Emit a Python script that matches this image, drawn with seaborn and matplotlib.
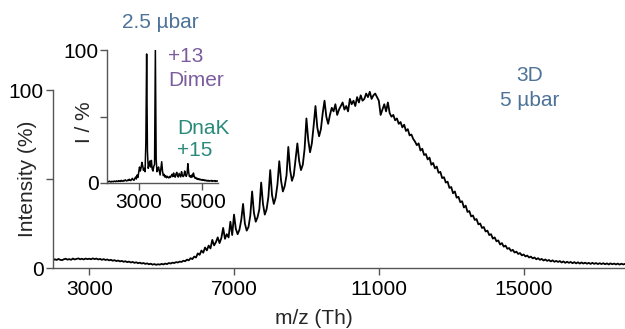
import numpy as np
import pandas as pd
import matplotlib
matplotlib.use("Agg")
import matplotlib.pyplot as plt
import seaborn as sns

# Espectro principal (3D, 5 µbar): intensidad (%) cada 50 Th desde 2000
main_start, main_step = 2000, 50
main_int = [
    # 2000-2950
    4.3, 4.9, 4.5, 5.1, 4.6, 4.4, 4.9, 5.2, 4.7, 5.0, 4.6, 5.3, 4.8, 5.1, 5.4, 4.9, 5.2, 4.8, 5.3, 5.0,
    # 3000-3950
    5.2, 4.9, 5.4, 5.0, 5.3, 4.8, 5.1, 4.6, 5.0, 4.5, 4.8, 4.3, 4.6, 4.1, 4.4, 3.9, 4.2, 3.7, 4.0, 3.5,
    # 4000-4950
    3.8, 3.3, 3.6, 3.1, 3.4, 2.9, 3.2, 2.7, 3.0, 2.5, 2.8, 2.3, 2.6, 2.1, 2.4, 1.9, 2.2, 1.8, 2.1, 1.9,
    # 5000-5950
    2.3, 2.0, 2.5, 2.2, 2.8, 2.5, 3.0, 2.8, 3.3, 3.1, 3.6, 3.4, 4.1, 3.8, 4.7, 4.3, 5.5, 5.0, 6.4, 5.9,
    # 6000-6950
    8.2, 7.4, 9.8, 8.6, 11.5, 9.9, 12.6, 11.0, 15.8, 12.7, 14.5, 17.2, 14.0, 16.8, 22.5, 16.4, 19.0, 17.2, 26.0, 18.5,
    # 7000-7950
    30, 22, 19, 21.5, 27, 36, 25, 21, 23, 29.5,
    43, 31, 26, 28.5, 33, 48, 36, 30, 33, 40,
    # 8000-8950
    55, 41, 36, 39.5, 47, 60, 49, 43, 46, 52,
    68, 55, 49, 52, 61, 70, 60, 55, 58, 67,
    # 9000-9950
    84, 72, 65, 70, 80, 91, 79, 74, 78, 87,
    94, 85, 81, 86, 90, 88, 92, 86, 89, 91,
    # 10000-10950
    93, 89, 91, 88, 95, 92, 94, 91, 96, 93, 97, 94, 95, 98, 96, 99, 95, 97, 98, 96,
    # 11000-11950
    94, 86, 89, 92, 88, 93, 87, 85, 86, 83, 84, 81, 82, 79, 80.5, 77, 78, 74.5, 75, 72.5,
    # 12000-12950
    71, 69, 70, 66, 67, 63.5, 64, 61, 62, 58, 59, 56, 57, 53.5, 54, 50.5, 51, 48, 48.5, 45,
    # 13000-13950
    45.5, 42, 43, 39.5, 40, 37, 37.5, 34, 35, 31.5, 32, 29, 29.5, 27, 27.5, 24.5, 25, 22.5, 23, 20.5,
    # 14000-14950
    21, 18.5, 19, 16.5, 17.2, 15, 15.5, 13.2, 14, 12, 12.6, 10.8, 11.2, 9.6, 10.2, 8.7, 9.2, 7.9, 8.4, 7.1,
    # 15000-15950
    7.6, 6.5, 7.0, 5.9, 6.4, 5.4, 5.9, 4.9, 5.5, 4.6, 5.1, 4.2, 4.8, 4.0, 4.5, 3.7, 4.3, 3.5, 4.0, 3.4,
    # 16000-16950
    3.9, 3.1, 3.7, 2.9, 3.5, 2.9, 3.4, 2.7, 3.3, 2.6, 3.2, 2.5, 3.1, 2.5, 3.0, 2.4, 2.9, 2.3, 2.9, 2.3,
    # 17000-17800
    2.8, 2.2, 2.7, 2.2, 2.7, 2.1, 2.6, 2.0, 2.6, 2.1, 2.5, 2.0, 2.5, 1.9, 2.4, 2.0, 2.3,
]

# Recuadro (2.5 µbar): intensidad (%) cada 25 Th desde 2000
ins_start, ins_step = 2000, 25
ins_int = [
    # 2000-2475
    0.8, 1.2, 0.9, 1.4, 1.0, 0.7, 1.3, 1.1, 0.9, 1.5, 1.2, 1.0, 1.6, 1.3, 1.1, 1.8, 1.4, 1.2, 2.0, 1.5,
    # 2500-2975
    1.3, 1.9, 1.6, 2.4, 1.8, 1.5, 2.2, 1.9, 2.8, 2.1, 1.8, 2.6, 3.5, 2.4, 2.0, 3.2, 4.5, 3.0, 6.0, 4.2,
    # 3000-3475
    8.0, 12.0, 9.0, 11.5, 15.5, 13.0, 9.5, 11.0, 8.5, 30.0, 97.0, 24.0, 11.0, 13.5, 16.5, 12.0, 17.0, 10.5, 9.0, 12.5,
    # 3500-3975
    14.0, 100.0, 18.0, 8.5, 10.0, 12.0, 9.0, 6.0, 11.0, 16.0, 9.0, 5.5, 6.5, 4.5, 5.5, 4.0, 5.0, 4.2, 3.8, 5.0,
    # 4000-4475
    4.2, 5.5, 6.5, 4.8, 7.5, 5.2, 4.4, 6.8, 8.0, 5.0, 4.5, 7.2, 5.8, 4.6, 8.5, 6.0, 4.8, 5.5, 9.0, 6.2,
    # 4500-4975
    5.0, 7.0, 14.5, 8.0, 4.8, 5.5, 4.2, 6.0, 4.6, 7.5, 5.0, 3.6, 4.2, 3.0, 3.5, 2.6, 3.2, 2.4, 2.8, 2.2,
    # 5000-5500
    2.6, 2.0, 2.4, 1.8, 2.2, 1.6, 2.0, 1.5, 1.9, 1.4, 1.8, 1.5, 1.9, 1.3, 1.7, 1.4, 1.8, 1.2, 1.6, 1.4, 1.5,
]

main_xticks = [3000, 7000, 11000, 15000]
ins_xticks = [3000, 5000]

df_main = pd.DataFrame({"mz": main_start + main_step * np.arange(len(main_int)),
                        "intensidad": main_int})
df_ins = pd.DataFrame({"mz": ins_start + ins_step * np.arange(len(ins_int)),
                       "intensidad": ins_int})

sns.set_style("ticks")
plt.rcParams["font.family"] = ["Liberation Sans", "DejaVu Sans"]
plt.rcParams["font.size"] = 15

W, H = 625, 329
fig = plt.figure(figsize=(W / 100, H / 100), dpi=100)

gris = "#555555"
azul = "#4d7399"
morado = "#7b5d9e"
verde = "#2a8a79"


def estilo(ax):
    sns.despine(ax=ax)
    for s in ("left", "bottom"):
        ax.spines[s].set_color(gris)
        ax.spines[s].set_linewidth(1.0)
    ax.tick_params(colors=gris, labelcolor="black", length=5, width=1.0)


# Gráfico principal
ax = fig.add_axes([53 / W, 1 - 268 / H, 572 / W, 178 / H])
sns.lineplot(data=df_main, x="mz", y="intensidad", ax=ax, color="black", linewidth=1.3)
ax.set_xlim(2000, 17800)
ax.set_ylim(0, 100)
ax.set_xticks(main_xticks)
ax.set_yticks([0, 50, 100])
ax.set_yticklabels(["0", "", "100"])
estilo(ax)
ax.tick_params(axis="y", pad=1.5)
ax.set_xlabel("m/z (Th)")
ax.set_ylabel("Intensity (%)")
ax.xaxis.set_label_coords(0.456, -0.228)
ax.yaxis.set_label_coords(-0.028, 0.5)

# Recuadro
axi = fig.add_axes([107 / W, 1 - 183 / H, 111 / W, 133 / H])
sns.lineplot(data=df_ins, x="mz", y="intensidad", ax=axi, color="black", linewidth=1.1)
axi.set_xlim(2000, 5500)
axi.set_ylim(0, 100)
axi.set_xticks(ins_xticks)
axi.set_yticks([0, 50, 100])
axi.set_yticklabels(["0", "", "100"])
estilo(axi)
axi.tick_params(axis="y", pad=1)
axi.tick_params(axis="x", pad=2)
axi.patch.set_alpha(0)
axi.set_xlabel("")
axi.set_ylabel("I / %")
axi.yaxis.set_label_coords(-0.12, 0.46)

# Anotaciones
def txt(x, y, s, color, ha="left"):
    fig.text(x / W, 1 - y / H, s, color=color, ha=ha, va="center", fontsize=15)

txt(160, 22, "2.5 µbar", azul, ha="center")
txt(168, 57, "+13", morado)
txt(168, 80, "Dimer", morado)
txt(177, 128, "DnaK", verde)
txt(177, 150, "+15", verde)
txt(530, 75, "3D", azul, ha="center")
txt(530, 101, "5 µbar", azul, ha="center")

fig.savefig("out.png", dpi=100)
plt.close(fig)
